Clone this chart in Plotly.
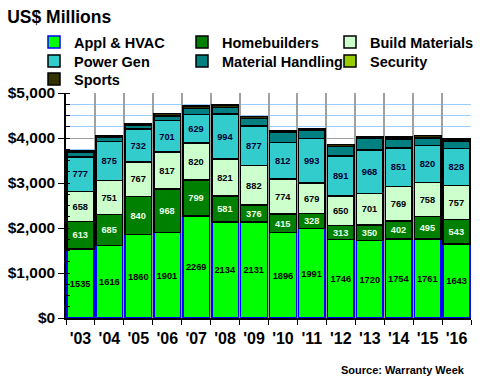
import plotly.graph_objects as go

years = ["'03", "'04", "'05", "'06", "'07", "'08", "'09", "'10", "'11", "'12", "'13", "'14", "'15", "'16"]
appl_hvac = [1535, 1616, 1860, 1901, 2269, 2134, 2131, 1896, 1991, 1746, 1720, 1754, 1761, 1643]
homebuilders = [613, 685, 840, 968, 799, 581, 376, 415, 328, 313, 350, 402, 495, 543]
build_materials = [658, 751, 767, 817, 820, 821, 882, 774, 679, 650, 701, 769, 758, 757]
power_gen = [777, 875, 732, 701, 629, 994, 877, 812, 993, 891, 968, 851, 820, 828]
material_handling = [100, 95, 95, 105, 140, 145, 165, 225, 185, 215, 265, 190, 170, 165]
security = [0, 0, 0, 0, 0, 0, 0, 0, 0, 0, 0, 30, 0, 0]
sports = [25, 30, 30, 50, 50, 55, 45, 35, 40, 45, 35, 30, 55, 45]

FONT = "Liberation Sans"

series = [
    ("Appl & HVAC", appl_hvac, "#00FF00", "#0000FF", True, "#000000", 9.5, "legend"),
    ("Homebuilders", homebuilders, "#008000", "#000000", True, "#E8FFE8", 10, "legend"),
    ("Build Materials", build_materials, "#CCFFCC", "#000000", True, "#000000", 10, "legend"),
    ("Power Gen", power_gen, "#33CCCC", "#000000", True, "#000033", 10, "legend2"),
    ("Material Handling", material_handling, "#008080", "#000000", False, "#000000", 10, "legend2"),
    ("Security", security, "#99CC00", "#000000", False, "#000000", 10, "legend2"),
    ("Sports", sports, "#333300", "#000000", False, "#000000", 10, "legend3"),
]

fig = go.Figure()
for name, vals, color, lcolor, labels, tcolor, tsize, leg in series:
    fig.add_trace(go.Bar(
        name=name,
        x=years,
        y=vals,
        legend=leg,
        marker=dict(color=color, line=dict(color=lcolor, width=1.5)),
        text=[str(v) for v in vals] if labels else None,
        textposition="inside" if labels else "none",
        insidetextanchor="middle",
        textangle=0,
        textfont=dict(family=FONT, size=tsize, color=tcolor, weight="bold"),
        hoverinfo="x+y+name",
    ))

PLOT_TOP = 93
PLOT_H = 225


def row_y(yc):
    return 1 + (PLOT_TOP - yc) / PLOT_H


legend_common = dict(
    orientation="h",
    traceorder="normal",
    x=-0.079, xanchor="left",
    yanchor="middle",
    font=dict(family=FONT, size=14.5, color="#000000", weight="bold"),
    itemwidth=30,
    entrywidth=103,
    entrywidthmode="pixels",
    bgcolor="rgba(0,0,0,0)",
)

fig.update_layout(
    width=480,
    height=390,
    barmode="stack",
    bargap=0.08,
    plot_bgcolor="white",
    paper_bgcolor="white",
    margin=dict(l=66, r=9, t=PLOT_TOP, b=72, autoexpand=False),
    font=dict(family=FONT, color="#000000"),
    uniformtext=dict(mode="show", minsize=9),
    title=dict(
        text="<b>US$ Millions</b>",
        font=dict(family=FONT, size=17.5, color="#000000"),
        x=0.015, xanchor="left", xref="container",
        y=1 - 17 / 390, yanchor="middle", yref="container",
    ),
    legend=dict(legend_common, y=row_y(42)),
    legend2=dict(legend_common, y=row_y(61)),
    legend3=dict(legend_common, y=row_y(79)),
    annotations=[dict(
        text="<b>Source: Warranty Week</b>",
        xref="paper", yref="paper",
        x=0.99, y=-0.231, xanchor="right", yanchor="middle",
        showarrow=False,
        font=dict(family=FONT, size=11, color="#000000"),
    )],
)

fig.update_yaxes(
    range=[0, 5000],
    dtick=1000,
    tickformat="$,.0f",
    tickfont=dict(family=FONT, size=15.5, color="#000000", weight="bold"),
    ticks="outside", ticklen=6, tickcolor="#000000", tickwidth=1,
    showline=True, linecolor="#000000", linewidth=1.5,
    showgrid=True, gridcolor="#A0A0A0", gridwidth=1,
    minor=dict(dtick=250, showgrid=True, gridcolor="#99CCFF", gridwidth=1,
               ticks="inside", ticklen=4, tickcolor="#000000"),
    zeroline=False,
    fixedrange=True,
)
fig.update_xaxes(
    tickson="boundaries",
    tickangle=0,
    ticks="outside", ticklen=5, tickcolor="#000000",
    ticklabelstandoff=5,
    tickfont=dict(family=FONT, size=16, color="#000000", weight="bold"),
    showline=True, linecolor="#000000", linewidth=1.5,
    showgrid=True, gridcolor="#A0A0A0", gridwidth=1.5,
    fixedrange=True,
)

fig.write_html(
    "out.html",
    config={"displayModeBar": False},
    post_script="document.body.style.margin='0px';",
)
